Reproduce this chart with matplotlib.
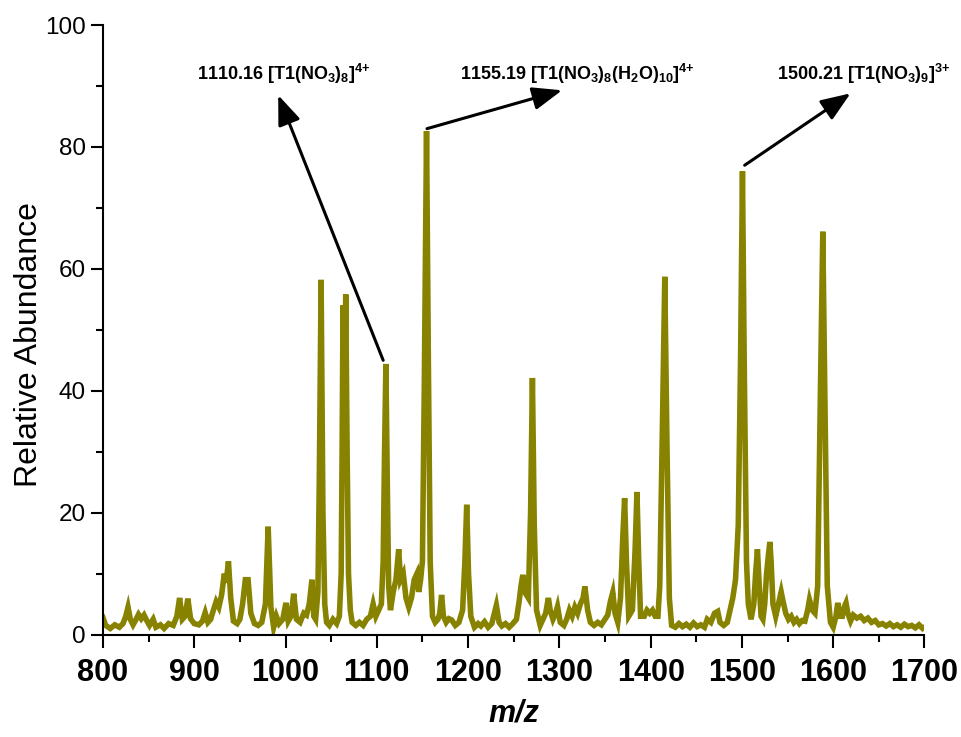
import matplotlib
matplotlib.use('Agg')
import matplotlib.pyplot as plt
from matplotlib.ticker import MultipleLocator

# spectrum (m/z, relative abundance)
mz = [800, 803, 808, 813, 818, 822, 825, 827.5, 830, 833, 836, 839, 842, 845, 848, 851, 855, 858,
      863, 867, 872, 877, 881, 884, 887, 890, 893, 896, 900, 905, 909, 912, 915, 918, 921, 924,
      927, 930, 933, 935, 937.5, 940, 943, 947, 950, 953, 956, 959, 962, 966, 970, 974, 978, 981,
      984, 987, 990, 993, 997, 1000.5, 1003, 1006, 1009, 1012, 1016, 1020, 1023, 1026, 1029, 1031,
      1033, 1035.5, 1037, 1039, 1041, 1043, 1045, 1048, 1052, 1056, 1059, 1061, 1062, 1063, 1064.5,
      1066, 1067.5, 1069, 1071, 1073, 1077, 1081, 1085, 1089, 1093, 1096, 1099, 1102, 1105, 1107,
      1108.5, 1110, 1111.5, 1113, 1115, 1118, 1121, 1124, 1126, 1129, 1132, 1135, 1138, 1141, 1144,
      1146, 1148, 1150, 1152, 1154.5, 1156.5, 1158.5, 1161, 1164, 1167, 1169, 1171, 1173, 1176,
      1179, 1182, 1186, 1190, 1194, 1196.5, 1198.5, 1200.5, 1203, 1207, 1211, 1214, 1218, 1222,
      1226, 1231, 1234, 1237, 1241, 1245, 1249, 1253, 1256, 1258, 1260, 1262, 1266, 1268.5, 1270.5,
      1272.5, 1275, 1279, 1282, 1285, 1288, 1290, 1293, 1296, 1298, 1301, 1305, 1308, 1311, 1314,
      1317, 1320, 1323, 1326, 1328, 1331, 1334, 1338, 1342, 1346, 1350, 1353, 1356, 1358.5, 1361,
      1364, 1367, 1369.5, 1371.5, 1373.5, 1376, 1380, 1383, 1385, 1387, 1389, 1393, 1396, 1399,
      1402, 1405, 1408, 1410, 1413, 1415.5, 1418, 1420.5, 1423, 1427, 1431, 1435, 1439, 1443, 1447,
      1451, 1455, 1459, 1462, 1466, 1470, 1473.5, 1476, 1480, 1484, 1487, 1490, 1493, 1496, 1498.5,
      1500.6, 1502.5, 1505, 1507, 1510, 1513, 1515, 1517, 1519, 1521, 1523, 1525, 1527, 1529,
      1530.6, 1532, 1534, 1537, 1540, 1543, 1545, 1548, 1551, 1554, 1557, 1560, 1563, 1566, 1569,
      1572, 1574, 1577, 1580, 1583, 1586, 1588.6, 1591, 1593.5, 1597, 1600, 1603, 1605, 1607, 1610,
      1612, 1614, 1616, 1619, 1622, 1626, 1630, 1634, 1638, 1642, 1646, 1650, 1654, 1658, 1662,
      1666, 1670, 1674, 1678, 1682, 1686, 1690, 1694, 1698, 1700]
abundance = [2.8, 1.5, 1.0, 1.6, 1.2, 1.8, 3.0, 4.5, 2.5, 1.6, 2.4, 3.3, 2.6, 3.2, 2.3, 1.5, 2.5, 1.2,
             1.6, 1.0, 1.8, 1.5, 3.0, 6.0, 2.5, 3.0, 5.9, 2.6, 1.8, 1.6, 2.2, 3.6, 2.0, 2.5, 4.0, 5.4,
             4.5, 6.5, 10, 8.5, 12, 6.0, 2.2, 1.8, 2.5, 5, 9, 9, 3.5, 1.8, 1.5, 2, 5, 17.7,
             4.5, 1.2, 3, 1.8, 2.5, 5.2, 2.2, 3, 6.7, 2.5, 2, 3.5, 3.2, 5, 9, 3,
             2.5, 7, 25, 58.2, 20, 5, 2, 1.5, 2.5, 1.8, 3, 10, 30, 54, 35,
             55.8, 30, 10, 4, 2, 1.5, 2, 1.5, 2.5, 3, 5, 3, 4, 5, 12,
             30, 44.4, 25, 8, 4, 7, 9, 14, 9, 10, 6, 4.5, 6, 9, 10,
             7, 9, 12, 40, 82.6, 45, 12, 3, 2, 2.5, 3.5, 6.5, 3, 2,
             2.6, 2.4, 1.5, 2, 4, 12, 21.3, 10, 3, 1.2, 1.8, 1.4, 2.1, 1.2,
             1.8, 4.8, 2, 1.4, 1.8, 1.2, 1.8, 2.5, 5.5, 8, 9.8, 7, 6, 20, 42.1,
             18, 4, 1.5, 2.5, 3.5, 6, 4, 2.5, 3.5, 4.6, 2, 1.5, 2.5, 4, 3,
             4.5, 3.5, 5, 6, 7.9, 4, 2, 1.5, 2, 1.6, 2.5, 3.2, 5.5, 6.9, 3.5,
             2, 6, 16, 22.4, 12, 3, 4, 14, 23.4, 12, 3, 3, 4, 3.5,
             4, 3, 3, 8, 35, 58.7, 30, 6, 1.5, 1.2, 1.8, 1.3, 1.7, 1.2, 1.9,
             1.3, 1.6, 1.2, 2.5, 2.0, 3.5, 3.8, 2, 1.5, 2, 4, 6, 9, 18, 45,
             76, 45, 12, 5, 2.5, 5, 10, 14, 8, 3, 2.5, 5, 10, 13,
             15.2, 12, 5, 3, 5, 7, 5.5, 3.5, 2.5, 3, 2, 2.5, 1.8, 2.3, 2.2,
             4, 5.7, 4, 3.5, 8, 40, 66.1, 38, 8, 2, 1.2, 3, 5.2, 3, 3,
             4.5, 5.2, 3.5, 2.2, 3.2, 2.7, 3.0, 2.3, 2.7, 2.0, 2.3, 1.6, 1.8, 1.4, 1.8,
             1.3, 1.6, 1.2, 1.7, 1.3, 1.5, 1.1, 1.6, 1.0, 1.2]

# labelled peaks
peak_labels = [r'1110.16 [T1(NO$_3$)$_8$]$^{4{+}}$',
               r'1155.19 [T1(NO$_3$)$_8$(H$_2$O)$_{10}$]$^{4{+}}$',
               r'1500.21 [T1(NO$_3$)$_9$]$^{3{+}}$']

plt.rcParams['font.family'] = ['Liberation Sans', 'DejaVu Sans']
plt.rcParams['mathtext.fontset'] = 'custom'
plt.rcParams['mathtext.rm'] = 'Liberation Sans:bold'
plt.rcParams['mathtext.it'] = 'Liberation Sans:bold'
plt.rcParams['mathtext.bf'] = 'Liberation Sans:bold'

fig = plt.figure(figsize=(9.62, 7.37), dpi=100)
ax = fig.add_axes([0.107, 0.139, 0.854, 0.827])

ax.plot(mz, abundance, color='#878200', lw=4.0, solid_joinstyle='miter')

ax.set_xlim(800, 1700)
ax.set_ylim(0, 100)
ax.xaxis.set_major_locator(MultipleLocator(100))
ax.xaxis.set_minor_locator(MultipleLocator(50))
ax.yaxis.set_major_locator(MultipleLocator(20))
ax.yaxis.set_minor_locator(MultipleLocator(10))
ax.tick_params(which='major', direction='out', length=9, width=1.5)
ax.tick_params(which='minor', direction='out', length=5, width=1.5)
ax.tick_params(axis='y', labelsize=17.5)
ax.tick_params(axis='x', labelsize=22, pad=8)
for lab in ax.get_xticklabels():
    lab.set_fontweight('bold')
for side in ['top', 'right']:
    ax.spines[side].set_visible(False)
for side in ['left', 'bottom']:
    ax.spines[side].set_linewidth(1.5)

ax.set_ylabel('Relative Abundance', fontsize=23)
ax.set_xlabel('m/z', fontsize=22, fontweight='bold', fontstyle='italic')
ax.yaxis.set_label_coords(-0.072, 0.475)
ax.xaxis.set_label_coords(0.5, -0.105)

# annotations
ax.text(903, 92, peak_labels[0], fontsize=13, fontweight='bold', va='center')
ax.text(1191, 92, peak_labels[1], fontsize=13, fontweight='bold', va='center')
ax.text(1538, 92, peak_labels[2], fontsize=13, fontweight='bold', va='center')

arrow = dict(arrowstyle='-|>,head_length=0.9,head_width=0.35', lw=2.2, color='black',
             shrinkA=0, shrinkB=0, mutation_scale=20)
ax.annotate('', xy=(992, 88.5), xytext=(1107, 45), arrowprops=arrow)
ax.annotate('', xy=(1303, 89.3), xytext=(1155, 83), arrowprops=arrow)
ax.annotate('', xy=(1619, 88.8), xytext=(1503, 77), arrowprops=arrow)

plt.savefig('out.png', dpi=100)
